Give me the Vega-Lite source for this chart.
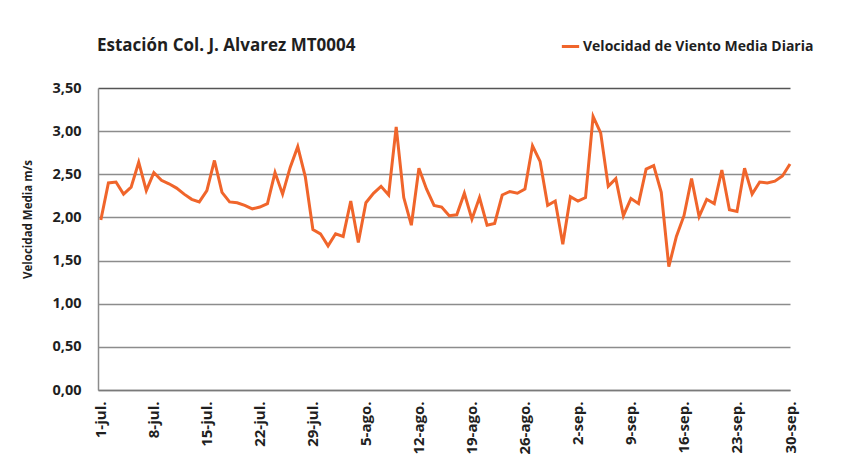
{
  "$schema": "https://vega.github.io/schema/vega-lite/v6.json",
  "width": 692,
  "height": 302,
  "autosize": "none",
  "padding": {"left": 98, "top": 88, "right": 58, "bottom": 74},
  "background": "white",
  "title": {
    "text": "Estación Col. J. Alvarez MT0004",
    "anchor": "start",
    "frame": "group",
    "dx": -1,
    "offset": -32,
    "baseline": "alphabetic",
    "font": "Open Sans",
    "fontSize": 17,
    "fontWeight": "bold",
    "color": "#1f1f1f"
  },
  "data": {
    "values": [
      {"fecha": "2023-07-01", "v": 1.97},
      {"fecha": "2023-07-02", "v": 2.40},
      {"fecha": "2023-07-03", "v": 2.41},
      {"fecha": "2023-07-04", "v": 2.27},
      {"fecha": "2023-07-05", "v": 2.35},
      {"fecha": "2023-07-06", "v": 2.64},
      {"fecha": "2023-07-07", "v": 2.31},
      {"fecha": "2023-07-08", "v": 2.52},
      {"fecha": "2023-07-09", "v": 2.43},
      {"fecha": "2023-07-10", "v": 2.39},
      {"fecha": "2023-07-11", "v": 2.34},
      {"fecha": "2023-07-12", "v": 2.27},
      {"fecha": "2023-07-13", "v": 2.21},
      {"fecha": "2023-07-14", "v": 2.18},
      {"fecha": "2023-07-15", "v": 2.31},
      {"fecha": "2023-07-16", "v": 2.66},
      {"fecha": "2023-07-17", "v": 2.29},
      {"fecha": "2023-07-18", "v": 2.18},
      {"fecha": "2023-07-19", "v": 2.17},
      {"fecha": "2023-07-20", "v": 2.14},
      {"fecha": "2023-07-21", "v": 2.10},
      {"fecha": "2023-07-22", "v": 2.12},
      {"fecha": "2023-07-23", "v": 2.16},
      {"fecha": "2023-07-24", "v": 2.52},
      {"fecha": "2023-07-25", "v": 2.27},
      {"fecha": "2023-07-26", "v": 2.58},
      {"fecha": "2023-07-27", "v": 2.82},
      {"fecha": "2023-07-28", "v": 2.47},
      {"fecha": "2023-07-29", "v": 1.86},
      {"fecha": "2023-07-30", "v": 1.81},
      {"fecha": "2023-07-31", "v": 1.67},
      {"fecha": "2023-08-01", "v": 1.81},
      {"fecha": "2023-08-02", "v": 1.78},
      {"fecha": "2023-08-03", "v": 2.19},
      {"fecha": "2023-08-04", "v": 1.71},
      {"fecha": "2023-08-05", "v": 2.17},
      {"fecha": "2023-08-06", "v": 2.28},
      {"fecha": "2023-08-07", "v": 2.36},
      {"fecha": "2023-08-08", "v": 2.26},
      {"fecha": "2023-08-09", "v": 3.05},
      {"fecha": "2023-08-10", "v": 2.23},
      {"fecha": "2023-08-11", "v": 1.91},
      {"fecha": "2023-08-12", "v": 2.57},
      {"fecha": "2023-08-13", "v": 2.33},
      {"fecha": "2023-08-14", "v": 2.14},
      {"fecha": "2023-08-15", "v": 2.12},
      {"fecha": "2023-08-16", "v": 2.02},
      {"fecha": "2023-08-17", "v": 2.03},
      {"fecha": "2023-08-18", "v": 2.28},
      {"fecha": "2023-08-19", "v": 1.98},
      {"fecha": "2023-08-20", "v": 2.23},
      {"fecha": "2023-08-21", "v": 1.91},
      {"fecha": "2023-08-22", "v": 1.93},
      {"fecha": "2023-08-23", "v": 2.26},
      {"fecha": "2023-08-24", "v": 2.30},
      {"fecha": "2023-08-25", "v": 2.28},
      {"fecha": "2023-08-26", "v": 2.33},
      {"fecha": "2023-08-27", "v": 2.83},
      {"fecha": "2023-08-28", "v": 2.65},
      {"fecha": "2023-08-29", "v": 2.14},
      {"fecha": "2023-08-30", "v": 2.19},
      {"fecha": "2023-08-31", "v": 1.69},
      {"fecha": "2023-09-01", "v": 2.24},
      {"fecha": "2023-09-02", "v": 2.19},
      {"fecha": "2023-09-03", "v": 2.23},
      {"fecha": "2023-09-04", "v": 3.17},
      {"fecha": "2023-09-05", "v": 2.98},
      {"fecha": "2023-09-06", "v": 2.36},
      {"fecha": "2023-09-07", "v": 2.45},
      {"fecha": "2023-09-08", "v": 2.02},
      {"fecha": "2023-09-09", "v": 2.22},
      {"fecha": "2023-09-10", "v": 2.16},
      {"fecha": "2023-09-11", "v": 2.56},
      {"fecha": "2023-09-12", "v": 2.60},
      {"fecha": "2023-09-13", "v": 2.29},
      {"fecha": "2023-09-14", "v": 1.43},
      {"fecha": "2023-09-15", "v": 1.78},
      {"fecha": "2023-09-16", "v": 2.02},
      {"fecha": "2023-09-17", "v": 2.45},
      {"fecha": "2023-09-18", "v": 2.01},
      {"fecha": "2023-09-19", "v": 2.21},
      {"fecha": "2023-09-20", "v": 2.16},
      {"fecha": "2023-09-21", "v": 2.55},
      {"fecha": "2023-09-22", "v": 2.09},
      {"fecha": "2023-09-23", "v": 2.07},
      {"fecha": "2023-09-24", "v": 2.57},
      {"fecha": "2023-09-25", "v": 2.27},
      {"fecha": "2023-09-26", "v": 2.41},
      {"fecha": "2023-09-27", "v": 2.40},
      {"fecha": "2023-09-28", "v": 2.42},
      {"fecha": "2023-09-29", "v": 2.48},
      {"fecha": "2023-09-30", "v": 2.62}
    ]
  },
  "mark": {"type": "line", "strokeWidth": 3, "strokeJoin": "miter", "strokeMiterLimit": 4},
  "encoding": {
    "x": {
      "field": "fecha",
      "type": "temporal",
      "scale": {"type": "utc", "domain": [{"year": 2023, "month": 6, "date": 30, "hours": 15, "utc": true}, {"year": 2023, "month": 9, "date": 30, "utc": true}]},
      "axis": {
        "title": null,
        "values": [
          {"year": 2023, "month": 7, "date": 1, "utc": true},
          {"year": 2023, "month": 7, "date": 8, "utc": true},
          {"year": 2023, "month": 7, "date": 15, "utc": true},
          {"year": 2023, "month": 7, "date": 22, "utc": true},
          {"year": 2023, "month": 7, "date": 29, "utc": true},
          {"year": 2023, "month": 8, "date": 5, "utc": true},
          {"year": 2023, "month": 8, "date": 12, "utc": true},
          {"year": 2023, "month": 8, "date": 19, "utc": true},
          {"year": 2023, "month": 8, "date": 26, "utc": true},
          {"year": 2023, "month": 9, "date": 2, "utc": true},
          {"year": 2023, "month": 9, "date": 9, "utc": true},
          {"year": 2023, "month": 9, "date": 16, "utc": true},
          {"year": 2023, "month": 9, "date": 23, "utc": true},
          {"year": 2023, "month": 9, "date": 30, "utc": true}
        ],
        "labelExpr": "utcdate(datum.value) + '-' + ['ene.','feb.','mar.','abr.','may.','jun.','jul.','ago.','sep.','oct.','nov.','dic.'][utcmonth(datum.value)]",
        "labelAngle": -90,
        "labelAlign": "right",
        "labelBaseline": "middle",
        "labelPadding": 11,
        "labelFont": "Open Sans",
        "labelFontSize": 15,
        "labelFontWeight": "bold",
        "labelColor": "#1f1f1f",
        "labelOverlap": false,
        "labelFlush": false,
        "ticks": false,
        "grid": false,
        "domainColor": "#7a7a7a",
        "domainWidth": 1.5
      }
    },
    "y": {
      "field": "v",
      "type": "quantitative",
      "scale": {"domain": [0, 3.5], "nice": false, "zero": true},
      "axis": {
        "title": "Velocidad Media m/s",
        "titleFont": "Open Sans",
        "titleFontSize": 11.5,
        "titleFontWeight": "bold",
        "titleColor": "#1f1f1f",
        "titleAngle": -90,
        "titleAlign": "center",
        "titleBaseline": "middle",
        "titleX": -70,
        "titleY": 131,
        "values": [0, 0.5, 1, 1.5, 2, 2.5, 3, 3.5],
        "labelExpr": "replace(format(datum.value, '.2f'), '.', ',')",
        "labelFont": "Open Sans",
        "labelFontSize": 14.5,
        "labelFontWeight": "bold",
        "labelColor": "#1f1f1f",
        "labelPadding": 17,
        "ticks": false,
        "grid": true,
        "gridColor": {"condition": {"test": "datum.value == 3.5", "value": "#555555"}, "value": "#8c8c8c"},
        "gridWidth": 1.5,
        "domainColor": "#8c8c8c",
        "domainWidth": 1.5
      }
    },
    "color": {
      "datum": "Velocidad de Viento Media Diaria",
      "type": "nominal",
      "scale": {"range": ["#f0652b"]},
      "legend": {
        "title": null,
        "orient": "none",
        "legendX": 462,
        "legendY": -52,
        "symbolType": "stroke",
        "symbolSize": 300,
        "symbolStrokeWidth": 3,
        "labelFont": "Open Sans",
        "labelFontSize": 14,
        "labelFontWeight": "bold",
        "labelColor": "#1f1f1f",
        "labelOffset": 2,
        "labelLimit": 400
      }
    }
  },
  "config": {
    "view": {"stroke": null}
  }
}
